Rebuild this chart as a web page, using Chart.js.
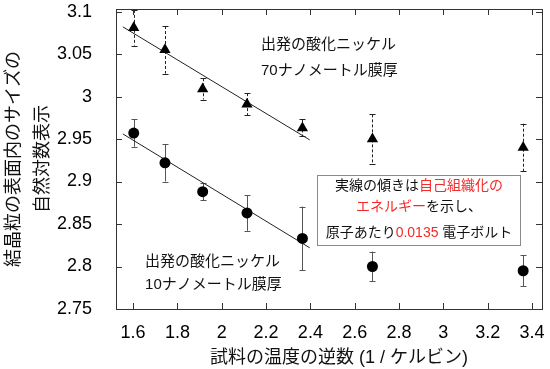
<!DOCTYPE html>
<html>
<head>
<meta charset="utf-8">
<script src="https://cdn.jsdelivr.net/npm/chart.js@4.4.0/dist/chart.umd.min.js"></script>
<style>
  html, body { margin: 0; padding: 0; background: #fff; }
  #wrap { width: 550px; height: 369px; }
</style>
</head>
<body>
<div id="wrap"><canvas id="chart"></canvas></div>
<script>
const FONT = "'Liberation Sans', Arial, 'Noto Sans CJK JP', sans-serif";
const RED = "#f52a2a";
const INK = "#111";

// x: inverse temperature, y: ln(grain size)
const invTemp = [1.603, 1.744, 1.914, 2.114, 2.364, 2.68, 3.36];
const grain70 = [3.081, 3.055, 3.009, 2.991, 2.963, 2.950, 2.940];
const err70 = [0.021, 0.028, 0.0125, 0.013, 0.010, 0.029, 0.028];
const grain10 = [2.957, 2.922, 2.888, 2.863, 2.833, 2.800, 2.795];
const err10 = [0.016, 0.022, 0.010, 0.021, 0.0375, 0.0175, 0.018];

// fitted lines, end points
const fit70 = [[1.554, 3.082], [2.397, 2.949]];
const fit10 = [[1.554, 2.956], [2.397, 2.822]];

const xTicks = [1.6, 1.8, 2, 2.2, 2.4, 2.6, 2.8, 3, 3.2, 3.4];
const yTicks = [2.75, 2.8, 2.85, 2.9, 2.95, 3, 3.05, 3.1];

const label70 = ["出発の酸化ニッケル", "70ナノメートル膜厚"];
const label10 = ["出発の酸化ニッケル", "10ナノメートル膜厚"];
const noteLines = [
  [["実線の傾きは", INK], ["自己組織化の", RED]],
  [["エネルギー", RED], ["を示し、", INK]],
  [["原子あたり", INK], ["0.0135", RED], [" 電子ボルト", INK]],
];

const pts = (ys) => invTemp.map((x, i) => ({ x: x, y: ys[i] }));
const seg = (p) => p.map((v) => ({ x: v[0], y: v[1] }));
const fmt = (v) => String(+Number(v).toFixed(2));

// error bars, drawn under the markers
const errorBars = {
  id: "errorBars",
  beforeDatasetsDraw(chart) {
    const { ctx, chartArea, scales: { x, y } } = chart;
    ctx.save();
    ctx.beginPath();
    ctx.rect(chartArea.left, chartArea.top, chartArea.width, chartArea.height);
    ctx.clip();
    chart.data.datasets.forEach((ds) => {
      if (!ds.errors) return;
      ctx.strokeStyle = ds.errColor;
      ctx.lineWidth = 1;
      ds.data.forEach((p, i) => {
        const px = Math.round(x.getPixelForValue(p.x)) + 0.5;
        const top = y.getPixelForValue(p.y + ds.errors[i]);
        const bot = y.getPixelForValue(p.y - ds.errors[i]);
        ctx.setLineDash(ds.errDash);
        ctx.beginPath();
        ctx.moveTo(px, top);
        ctx.lineTo(px, bot);
        ctx.stroke();
        ctx.setLineDash([]);
        ctx.beginPath();
        ctx.moveTo(px - 3, Math.round(top) + 0.5);
        ctx.lineTo(px + 3, Math.round(top) + 0.5);
        ctx.moveTo(px - 3, Math.round(bot) + 0.5);
        ctx.lineTo(px + 3, Math.round(bot) + 0.5);
        ctx.stroke();
      });
    });
    ctx.restore();
  },
};

// box round the plot with inward ticks on all four sides
const frame = {
  id: "frame",
  afterDatasetsDraw(chart) {
    const { ctx, chartArea: a, scales: { x, y } } = chart;
    const L = 6;
    ctx.save();
    ctx.strokeStyle = "#333";
    ctx.lineWidth = 1;
    ctx.strokeRect(Math.round(a.left) + 0.5, Math.round(a.top) + 0.5,
      Math.round(a.width), Math.round(a.height));
    ctx.beginPath();
    xTicks.forEach((v) => {
      const px = Math.round(x.getPixelForValue(v)) + 0.5;
      ctx.moveTo(px, a.bottom); ctx.lineTo(px, a.bottom - L);
      ctx.moveTo(px, a.top); ctx.lineTo(px, a.top + L);
    });
    yTicks.forEach((v) => {
      const py = Math.round(y.getPixelForValue(v)) + 0.5;
      ctx.moveTo(a.left, py); ctx.lineTo(a.left + L, py);
      ctx.moveTo(a.right, py); ctx.lineTo(a.right - L, py);
    });
    ctx.stroke();
    ctx.restore();
  },
};

function drawRuns(ctx, runs, cx, cy) {
  const w = runs.reduce((s, r) => s + ctx.measureText(r[0]).width, 0);
  let px = cx - w / 2;
  runs.forEach(([t, c]) => {
    ctx.fillStyle = c;
    ctx.fillText(t, px, cy);
    px += ctx.measureText(t).width;
  });
}

const notes = {
  id: "notes",
  afterDraw(chart) {
    const { ctx, scales: { x, y } } = chart;
    ctx.save();
    ctx.textBaseline = "middle";
    ctx.textAlign = "left";
    ctx.fillStyle = INK;
    ctx.font = "15px " + FONT;
    ctx.fillText(label70[0], x.getPixelForValue(2.177), y.getPixelForValue(3.061));
    ctx.fillText(label70[1], x.getPixelForValue(2.177), y.getPixelForValue(3.030));
    ctx.fillText(label10[0], x.getPixelForValue(1.654), y.getPixelForValue(2.806));
    ctx.fillText(label10[1], x.getPixelForValue(1.654), y.getPixelForValue(2.778));

    const bl = Math.round(x.getPixelForValue(2.431)) + 0.5;
    const br = Math.round(x.getPixelForValue(3.344)) + 0.5;
    const bt = Math.round(y.getPixelForValue(2.908)) + 0.5;
    const bb = Math.round(y.getPixelForValue(2.825)) + 0.5;
    ctx.fillStyle = "#fff";
    ctx.fillRect(bl, bt, br - bl, bb - bt);
    ctx.strokeStyle = "#8a8a8a";
    ctx.lineWidth = 1;
    ctx.strokeRect(bl, bt, br - bl, bb - bt);
    ctx.font = "14px " + FONT;
    const cx = (bl + br) / 2;
    [2.894, 2.870, 2.839].forEach((v, i) => drawRuns(ctx, noteLines[i], cx, y.getPixelForValue(v)));
    ctx.restore();
  },
};

new Chart(document.getElementById("chart"), {
  type: "scatter",
  data: {
    datasets: [
      {
        data: pts(grain70), errors: err70, errDash: [3, 2], errColor: "#222",
        pointStyle: "triangle", pointRadius: 6.5, backgroundColor: "#000", borderColor: "#000", borderWidth: 0,
      },
      {
        data: pts(grain10), errors: err10, errDash: [], errColor: "#555",
        pointStyle: "circle", pointRadius: 5.5, backgroundColor: "#000", borderColor: "#000", borderWidth: 0,
      },
      { data: seg(fit70), showLine: true, pointRadius: 0, borderColor: "#222", borderWidth: 1 },
      { data: seg(fit10), showLine: true, pointRadius: 0, borderColor: "#222", borderWidth: 1 },
    ],
  },
  options: {
    responsive: true,
    maintainAspectRatio: false,
    animation: false,
    events: [],
    layout: { padding: { top: 9, right: 8, left: 0, bottom: 0 } },
    plugins: { legend: { display: false }, tooltip: { enabled: false } },
    scales: {
      x: {
        type: "linear",
        min: 1.523,
        max: 3.445,
        afterBuildTicks: (s) => { s.ticks = xTicks.map((v) => ({ value: v })); },
        afterFit: (s) => { s.height = 60; s.paddingLeft = 0; s.paddingRight = 0; },
        grid: { display: false },
        border: { display: false },
        ticks: { padding: 5, color: "#000", font: { family: FONT, size: 18 }, maxRotation: 0, autoSkip: false, callback: fmt },
        title: {
          display: true,
          text: "    試料の温度の逆数 (1 / ケルビン)",
          color: "#111",
          font: { family: FONT, size: 18, lineHeight: 1.2 },
          padding: { top: 0, bottom: 0 },
        },
      },
      y: {
        min: 2.75,
        max: 3.103,
        afterBuildTicks: (s) => { s.ticks = yTicks.map((v) => ({ value: v })); },
        afterFit: (s) => { s.width = 116; s.paddingTop = 0; s.paddingBottom = 0; },
        grid: { display: false },
        border: { display: false },
        ticks: { padding: 16, color: "#000", font: { family: FONT, size: 18 }, autoSkip: false, callback: fmt },
        title: {
          display: true,
          text: ["結晶粒の表面内のサイズの", "自然対数表示"],
          color: "#111",
          font: { family: FONT, size: 18, lineHeight: 1.6 },
          padding: { top: 0, bottom: 0 },
        },
      },
    },
  },
  plugins: [errorBars, frame, notes],
});
</script>
</body>
</html>
